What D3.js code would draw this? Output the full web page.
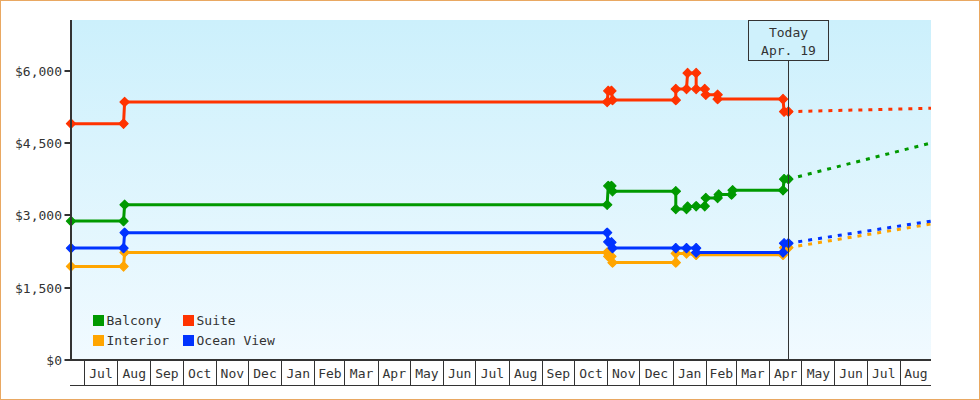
<!DOCTYPE html>
<html><head><meta charset="utf-8">
<script src="https://cdn.jsdelivr.net/npm/d3@7"></script>
<style>
html,body{margin:0;padding:0;background:#fff}
svg{display:block}
text{font-family:"DejaVu Sans Mono",monospace;font-size:13px;fill:#333}
</style></head><body>
<svg id="chart" width="980" height="400"></svg>
<script>
// ---------- DATA ----------
const seriesNames = ["Balcony", "Suite", "Interior", "Ocean View"];

const balconyHistory = [
  ["2016-06-19",2880],["2016-08-07",2880],["2016-08-08",3220],["2017-11-01",3220],
  ["2017-11-02",3610],["2017-11-05",3610],["2017-11-06",3500],["2018-01-04",3500],
  ["2018-01-04",3130],["2018-01-14",3130],["2018-01-15",3180],["2018-01-23",3190],
  ["2018-01-31",3190],["2018-02-01",3360],["2018-02-12",3360],["2018-02-13",3430],
  ["2018-02-25",3430],["2018-02-26",3520],["2018-04-14",3520],["2018-04-15",3750],
  ["2018-04-19",3750]
];
const suiteHistory = [
  ["2016-06-19",4900],["2016-08-07",4900],["2016-08-08",5350],["2017-11-01",5350],
  ["2017-11-02",5580],["2017-11-05",5580],["2017-11-06",5390],["2018-01-04",5390],
  ["2018-01-04",5620],["2018-01-14",5620],["2018-01-15",5950],["2018-01-23",5950],
  ["2018-01-23",5620],["2018-01-31",5620],["2018-02-01",5500],["2018-02-12",5500],
  ["2018-02-12",5410],["2018-04-14",5410],["2018-04-15",5150],["2018-04-19",5150]
];
const interiorHistory = [
  ["2016-06-19",1940],["2016-08-07",1940],["2016-08-08",2230],["2017-11-01",2230],
  ["2017-11-02",2150],["2017-11-05",2150],["2017-11-06",2020],["2018-01-04",2020],
  ["2018-01-04",2210],["2018-01-14",2210],["2018-01-23",2190],["2018-01-23",2180],
  ["2018-04-14",2180],["2018-04-15",2330],["2018-04-19",2330]
];
const oceanViewHistory = [
  ["2016-06-19",2320],["2016-08-07",2320],["2016-08-08",2640],["2017-11-01",2640],
  ["2017-11-02",2450],["2017-11-05",2440],["2017-11-06",2320],["2018-01-04",2320],
  ["2018-01-14",2320],["2018-01-23",2320],["2018-01-23",2230],["2018-04-14",2230],
  ["2018-04-15",2420],["2018-04-19",2420]
];

const balconyForecast   = [["2018-04-19",3750],["2018-08-30",4500]];
const suiteForecast     = [["2018-04-19",5150],["2018-08-30",5220]];
const interiorForecast  = [["2018-04-19",2330],["2018-08-30",2820]];
const oceanViewForecast = [["2018-04-19",2420],["2018-08-30",2880]];

const yTickValues = [0, 1500, 3000, 4500, 6000];
const dateDomain = ["2016-06-19", "2018-08-30"];
const todayDate = "2018-04-19";
const todayLabel = ["Today", "Apr. 19"];

// ---------- STYLE ----------
const seriesColors = ["#009900", "#ff3300", "#ffa500", "#0033ff"];

// ---------- CHART ----------
const parse = d3.utcParse("%Y-%m-%d");
const svg = d3.select("#chart");

const L = 71, R = 931, T = 20, B = 360;
const x = d3.scaleUtc().domain(dateDomain.map(parse)).range([L, R]);
const y = d3.scaleLinear().domain([0, 7050]).range([B, T]);

// outer border
svg.append("rect").attr("x",0.5).attr("y",0.5).attr("width",979).attr("height",399)
  .attr("fill","#fff").attr("stroke","#e9a862").attr("stroke-width",1);

// gradient background
const defs = svg.append("defs");
const grad = defs.append("linearGradient").attr("id","bg").attr("x1",0).attr("y1",0).attr("x2",0).attr("y2",1);
grad.append("stop").attr("offset","0%").attr("stop-color","#ccf0fc");
grad.append("stop").attr("offset","100%").attr("stop-color","#f1faff");
svg.append("rect").attr("x",L+1).attr("y",T).attr("width",R-L-1).attr("height",B-T).attr("fill","url(#bg)");

defs.append("clipPath").attr("id","clip").append("rect")
  .attr("x",L-6).attr("y",T).attr("width",R-L+6).attr("height",B-T+6);

// series
const histories = [balconyHistory, suiteHistory, interiorHistory, oceanViewHistory];
const forecasts = [balconyForecast, suiteForecast, interiorForecast, oceanViewForecast];
const line = d3.line().x(d => x(parse(d[0]))).y(d => y(d[1]));
const diamond = "M0,-4.6L1.2,-3.4L4.6,0L1.2,3.4L0,4.6L-1.2,3.4L-4.6,0L-1.2,-3.4Z";

const gSeries = svg.append("g").attr("clip-path","url(#clip)");
histories.forEach((h, i) => {
  const g = gSeries.append("g");
  g.append("path").datum(forecasts[i]).attr("d", line)
    .attr("fill","none").attr("stroke",seriesColors[i]).attr("stroke-width",3)
    .attr("stroke-dasharray","4,6");
  g.append("path").datum(h).attr("d", line)
    .attr("fill","none").attr("stroke",seriesColors[i]).attr("stroke-width",3)
    .attr("stroke-linejoin","round");
  g.selectAll("path.m").data(h).enter().append("path").attr("class","m")
    .attr("d", diamond)
    .attr("transform", d => `translate(${x(parse(d[0]))},${y(d[1])})`)
    .attr("fill",seriesColors[i]).attr("stroke",seriesColors[i]).attr("stroke-width",1.2)
    .attr("stroke-linejoin","round");
});

// today marker
const tx = Math.round(x(parse(todayDate))) + 0.5;
svg.append("line").attr("x1",tx).attr("x2",tx).attr("y1",61).attr("y2",B)
  .attr("stroke","#333").attr("stroke-width",1);
svg.append("rect").attr("x",tx-40).attr("y",20.5).attr("width",80).attr("height",40)
  .attr("fill","#cff1fc").attr("stroke","#333").attr("stroke-width",1);
svg.append("text").attr("x",tx).attr("y",36.5).attr("text-anchor","middle").text(todayLabel[0]);
svg.append("text").attr("x",tx).attr("y",54.5).attr("text-anchor","middle").text(todayLabel[1]);

// y axis
const yAxis = svg.append("g");
yAxis.append("line").attr("x1",L).attr("x2",L).attr("y1",T).attr("y2",B+1)
  .attr("stroke","#333").attr("stroke-width",2);
const fmt = d3.format("$,");
yTickValues.forEach(v => {
  const yy = Math.round(y(v));
  yAxis.append("line").attr("x1",64.5).attr("x2",L).attr("y1",yy).attr("y2",yy)
    .attr("stroke","#333").attr("stroke-width",2);
  yAxis.append("text").attr("x",62).attr("y",yy).attr("dy","0.36em")
    .attr("text-anchor","end").text(fmt(v));
});

// x axis (month boxes)
const xAxis = svg.append("g");
xAxis.append("line").attr("x1",L-1).attr("x2",R).attr("y1",B).attr("y2",B)
  .attr("stroke","#333").attr("stroke-width",2);
xAxis.append("line").attr("x1",L-1).attr("x2",R).attr("y1",385.5).attr("y2",385.5)
  .attr("stroke","#333").attr("stroke-width",1);
const [d0, d1] = x.domain();
const monthStarts = d3.utcMonth.range(d3.utcMonth.ceil(d0), d1);
monthStarts.forEach(m => {
  const xx = Math.round(x(m)) + 0.5;
  xAxis.append("line").attr("x1",xx).attr("x2",xx).attr("y1",B).attr("y2",385)
    .attr("stroke","#333").attr("stroke-width",1);
});
const bounds = [d0, ...monthStarts, d1];
const mfmt = d3.utcFormat("%b");
for (let k = 0; k < bounds.length - 1; k++) {
  const a = x(bounds[k]), b = x(bounds[k+1]);
  if (b - a < 24) continue;
  const labelDate = k === 0 ? d0 : bounds[k];
  xAxis.append("text").attr("x",(a+b)/2 + 0.5).attr("y",377.5)
    .attr("text-anchor","middle").text(mfmt(labelDate));
}

// legend
const legendPos = [[93,315],[183,315],[93,335],[183,335]];
seriesNames.forEach((n, i) => {
  const [lx, ly] = legendPos[i];
  svg.append("rect").attr("x",lx).attr("y",ly).attr("width",11).attr("height",11)
    .attr("fill",seriesColors[i]);
  svg.append("text").attr("x",lx+13.5).attr("y",ly+9.8).text(n);
});
</script>
</body></html>
